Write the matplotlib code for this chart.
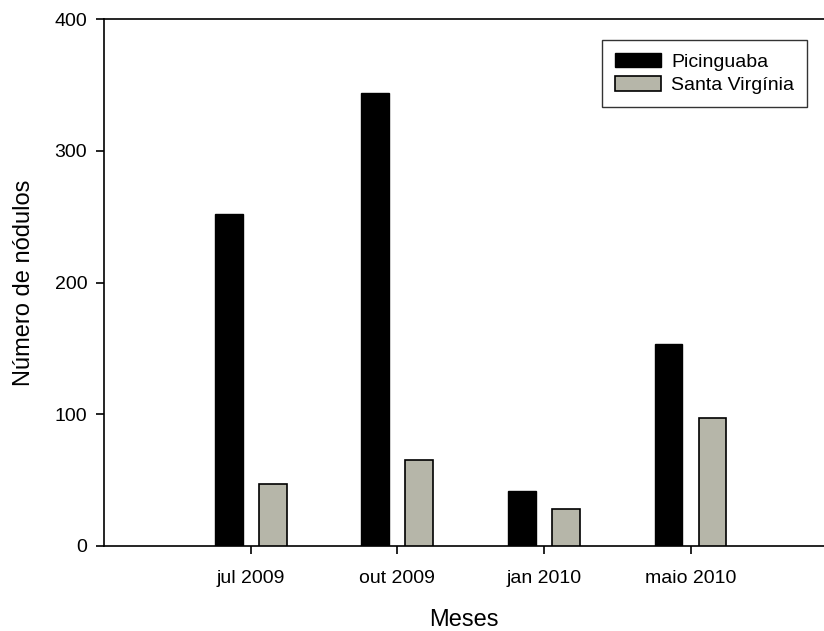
import matplotlib
matplotlib.use("Agg")
import matplotlib.pyplot as plt
import numpy as np

plt.rcParams['font.family'] = ['Liberation Sans', 'DejaVu Sans']

meses = ["jul 2009", "out 2009", "jan 2010", "maio 2010"]
picinguaba = [252, 344, 42, 153]
santa_virginia = [47, 65, 28, 97]
y_ticks = [0, 100, 200, 300, 400]

fig = plt.figure(figsize=(8.24, 6.31), dpi=100)
ax = fig.add_axes([104 / 824, 85 / 631, 1 - 104 / 824, (546 - 19) / 631])

x = np.arange(1, len(meses) + 1)
w = 0.19
off = 0.15
ax.bar(x - off, picinguaba, w, color="black", edgecolor="black", linewidth=1,
       label="Picinguaba", zorder=3)
ax.bar(x + off, santa_virginia, w, color="#b6b6a9", edgecolor="black", linewidth=1.2,
       label="Santa Virgínia", zorder=3)

ax.set_xlim(0, 4.91)
ax.set_ylim(0, 400)
ax.set_xticks(x)
ax.set_xticklabels(meses, fontsize=14)
ax.set_yticks(y_ticks)
ax.set_yticklabels([str(v) for v in y_ticks], fontsize=14)

ax.spines['right'].set_visible(False)
for s in ['left', 'bottom', 'top']:
    ax.spines[s].set_linewidth(1.2)
ax.tick_params(axis='both', direction='out', length=6, width=1.2)
ax.tick_params(axis='x', pad=11)
ax.tick_params(axis='y', pad=6)

ax.set_xlabel("Meses", fontsize=17, labelpad=16)
ax.set_ylabel("Número de nódulos", fontsize=17, labelpad=14)

leg = ax.legend(loc="upper left", bbox_to_anchor=(602 / 824, 1 - 40 / 631),
                bbox_transform=fig.transFigure, fontsize=14, frameon=True,
                fancybox=False, edgecolor="black", handlelength=2.4,
                handleheight=0.75, borderpad=0.65, labelspacing=0.3,
                handletextpad=0.5, borderaxespad=0)
leg.get_frame().set_linewidth(1.0)

fig.savefig("out.png", dpi=100)
